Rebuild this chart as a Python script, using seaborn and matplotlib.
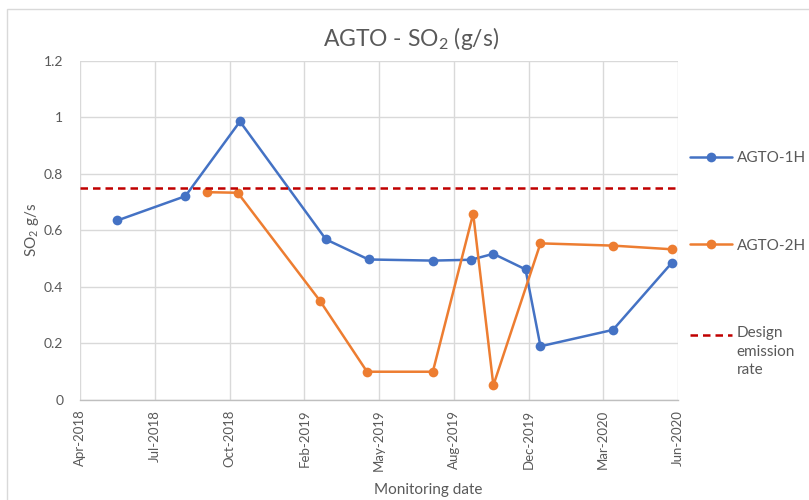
import pandas as pd
import numpy as np
import matplotlib
matplotlib.use("Agg")
import matplotlib.pyplot as plt
import matplotlib.dates as mdates
from matplotlib.patches import Rectangle
from matplotlib.lines import Line2D
from matplotlib.legend_handler import HandlerLine2D
import seaborn as sns

# Monitoring results, SO2 emission rate (g/s)
dates_1h = ["2018-05-30", "2018-08-29", "2018-11-10", "2019-03-05", "2019-05-01",
            "2019-07-26", "2019-09-15", "2019-10-15", "2019-11-27", "2019-12-17",
            "2020-03-23", "2020-06-10"]
so2_1h = [0.635, 0.721, 0.985, 0.568, 0.497, 0.493, 0.496, 0.517, 0.462, 0.19,
          0.248, 0.486]

dates_2h = ["2018-09-27", "2018-11-07", "2019-02-25", "2019-04-29", "2019-07-26",
            "2019-09-18", "2019-10-15", "2019-12-17", "2020-03-23", "2020-06-10"]
so2_2h = [0.735, 0.733, 0.351, 0.10, 0.10, 0.659, 0.052, 0.554, 0.546, 0.533]

design_rate = 0.75

axis_start = "2018-04-10"
tick_step_days = 100
n_ticks = 9
y_ticks = [0, 0.2, 0.4, 0.6, 0.8, 1, 1.2]
y_tick_labels = ["0", "0.2", "0.4", "0.6", "0.8", "1", "1.2"]

df = pd.concat([
    pd.DataFrame({"date": pd.to_datetime(dates_1h), "so2": so2_1h, "series": "AGTO-1H"}),
    pd.DataFrame({"date": pd.to_datetime(dates_2h), "so2": so2_2h, "series": "AGTO-2H"}),
], ignore_index=True)

sns.set_theme(style="white")
plt.rcParams["font.family"] = ["Lato", "DejaVu Sans"]
text_gray = "#595959"


class TopAlignedLine(HandlerLine2D):
    """Legend line drawn level with the first row of a multi-line label."""

    def __init__(self, lift=12.0, **kw):
        super().__init__(**kw)
        self.lift = lift

    def create_artists(self, legend, orig_handle, xdescent, ydescent, width,
                       height, fontsize, trans):
        return super().create_artists(legend, orig_handle, xdescent,
                                      ydescent - 2 * self.lift, width, height,
                                      fontsize, trans)


fig = plt.figure(figsize=(8.09, 5.0), dpi=100)
ax = fig.add_axes([80 / 809, 100 / 500, 598 / 809, 339.3 / 500])

# Chart frame
fig.patches.append(Rectangle((7 / 809, -0.1), 1.2, 1 - 9 / 500 + 0.1,
                             transform=fig.transFigure, fill=False,
                             edgecolor="#d9d9d9", linewidth=1.0))

palette = {"AGTO-1H": "#4472C4", "AGTO-2H": "#ED7D31"}
sns.lineplot(data=df, x="date", y="so2", hue="series", palette=palette,
             marker="o", markersize=7, markeredgewidth=0, linewidth=1.8,
             ax=ax, sort=False, estimator=None, legend=False)

ax.axhline(design_rate, color="#C00000", linestyle=(0, (3, 2)), linewidth=1.8)

start = pd.Timestamp(axis_start)
ticks = [start + pd.Timedelta(days=tick_step_days * i) for i in range(n_ticks)]
ax.set_xlim(mdates.date2num(ticks[0]), mdates.date2num(ticks[-1]))
ax.set_xticks(mdates.date2num(ticks))
ax.xaxis.set_major_formatter(mdates.DateFormatter("%b-%Y"))
ax.set_ylim(0, 1.2)
ax.set_yticks(y_ticks)
ax.set_yticklabels(y_tick_labels)

ax.grid(True, color="#d9d9d9", linewidth=1.0)
for side in ["top", "right", "left"]:
    ax.spines[side].set_visible(False)
ax.spines["bottom"].set_color("#bfbfbf")
ax.spines["bottom"].set_linewidth(1.0)

ax.tick_params(axis="x", labelrotation=90, labelsize=9.5, colors=text_gray,
               length=4, color="#bfbfbf", pad=3)
ax.tick_params(axis="y", labelsize=10, colors=text_gray, length=0, pad=12)

ax.set_xlabel("")
ax.set_ylabel("SO$_\\mathregular{2}$ g/s", fontsize=11, color=text_gray, labelpad=2)
fig.text(428 / 809, 1 - 490 / 500, "Monitoring date", fontsize=11,
         color=text_gray, ha="center", va="center")
fig.text(411 / 809, 1 - 38 / 500, "AGTO - SO$_\\mathregular{2}$ (g/s)",
         fontsize=16.5, color=text_gray, ha="center", va="center")

h_1h = Line2D([], [], color=palette["AGTO-1H"], marker="o", markersize=7,
              markeredgewidth=0, linewidth=1.8)
h_2h = Line2D([], [], color=palette["AGTO-2H"], marker="o", markersize=7,
              markeredgewidth=0, linewidth=1.8)
h_design = Line2D([], [], color="#C00000", linestyle=(0, (3, 2)), linewidth=1.8)
labels = ["AGTO-1H", "AGTO-2H", "Design\nemission\nrate"]
leg = ax.legend([h_1h, h_2h, h_design], labels, loc="upper left",
                bbox_to_anchor=(0.997, 0.774), frameon=False, fontsize=11,
                labelspacing=4.82, handlelength=2.75, handletextpad=0.3,
                borderaxespad=0.5,
                handler_map={h_design: TopAlignedLine(lift=12.0)})
for t in leg.get_texts():
    t.set_color(text_gray)
    t.set_linespacing(1.38)

fig.savefig("out.png", dpi=100)
